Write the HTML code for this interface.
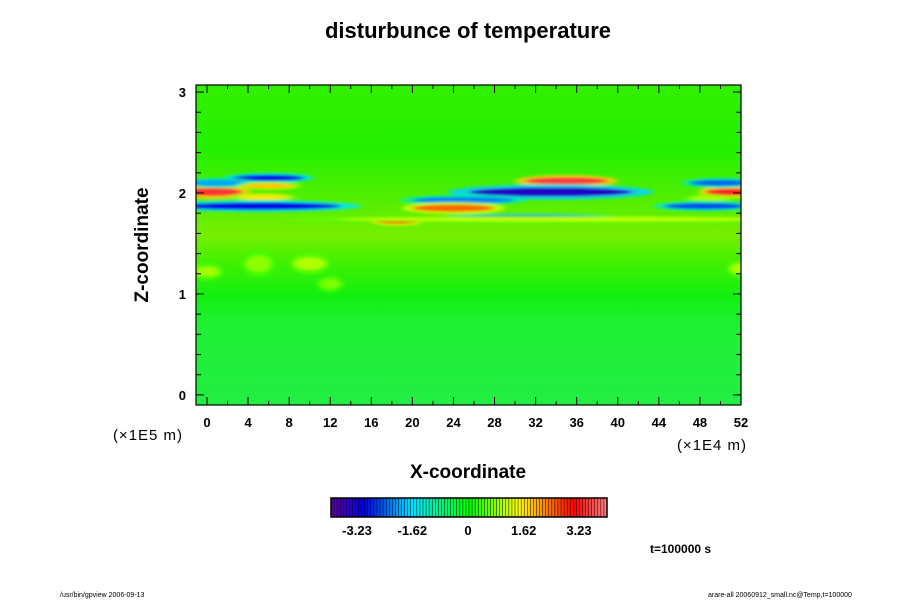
<!DOCTYPE html>
<html><head><meta charset="utf-8"><style>
html,body{margin:0;padding:0;background:#fff;width:900px;height:600px;overflow:hidden}
text{font-family:"Liberation Sans",sans-serif}
</style></head><body>
<svg id="chart" width="900" height="600" xmlns="http://www.w3.org/2000/svg">
<defs>
<filter id="blur" x="-20%" y="-50%" width="140%" height="200%"><feGaussianBlur stdDeviation="3 1.2"/></filter>
<clipPath id="clip"><rect x="196" y="85" width="545" height="320"/></clipPath>
<linearGradient id="bg" x1="0" y1="0" x2="0" y2="1">
<stop offset="0" stop-color="#33f000"/>
<stop offset="0.2" stop-color="#22f000"/>
<stop offset="0.42" stop-color="#66ee00"/>
<stop offset="0.47" stop-color="#77ee00"/>
<stop offset="0.55" stop-color="#44f000"/>
<stop offset="0.66" stop-color="#11f011"/>
<stop offset="0.75" stop-color="#20f035"/>
<stop offset="1" stop-color="#22ee44"/>
</linearGradient>
</defs>
<text x="468" y="38" text-anchor="middle" font-size="22" font-weight="bold">disturbunce of temperature</text>
<g clip-path="url(#clip)">
<rect x="196" y="85" width="545" height="320" fill="url(#bg)"/>
<g id="blobs" filter="url(#blur)"></g>
</g>
<rect x="196" y="85" width="545" height="320" fill="none" stroke="#000" stroke-width="1.2"/>
<g id="axes"></g>
<text x="148" y="245" text-anchor="middle" font-size="19" font-weight="bold" transform="rotate(-90 148 245)">Z-coordinate</text>
<text x="468" y="478" text-anchor="middle" font-size="19" font-weight="bold">X-coordinate</text>
<text x="148" y="440" text-anchor="middle" font-size="15" letter-spacing="1">(×1E5 m)</text>
<text x="712" y="450" text-anchor="middle" font-size="15" letter-spacing="1">(×1E4 m)</text>
<g id="colorbar"></g>
<text x="650" y="553" font-size="12" font-weight="bold">t=100000 s</text>
<text x="60" y="597" font-size="7">/usr/bin/gpview 2006-09-13</text>
<text x="708" y="597" font-size="7">arare-all 20060912_small.nc@Temp,t=100000</text>
</svg>
<script>
const xTicks=[0,4,8,12,16,20,24,28,32,36,40,44,48,52];
const zTicks=[0,1,2,3];
const cbLabels=[-3.23,-1.62,0,1.62,3.23];
// features: x center, z center, half-width (x units), half-height (z units), value
const featX=[0.5,6,1,6,5.5,5,35,33.5,25,31.5,18.5,48.5,51,50,49,24,35,0,5,10,12,52];
const featZ=[2.01,2.15,2.1,2.07,1.96,1.87,2.12,2.01,1.93,1.76,1.72,1.87,2.01,2.1,1.95,1.85,1.74,1.22,1.3,1.3,1.1,1.25];
const featW=[3,3.5,3,2.5,2.5,8,4,8,5,7,2,4,2.5,3,2,4,22,1.2,1.2,1.5,1,1];
const featH=[0.04,0.03,0.03,0.025,0.025,0.035,0.035,0.045,0.03,0.02,0.025,0.03,0.035,0.03,0.02,0.035,0.02,0.05,0.08,0.06,0.05,0.05];
const featV=[3.4,-3.0,-2.0,1.8,1.6,-3.0,3.5,-3.4,-2.2,-2.8,2.8,-2.6,3.3,-2.4,1.0,2.4,1.1,0.9,0.8,1.0,0.7,1.0];
const X0=-1.07,X1=52,Z0=-0.1,Z1=3.07;
const px=x=>196+(x-X0)/(X1-X0)*545;
const pz=z=>405-(z-Z0)/(Z1-Z0)*320;
const NS="http://www.w3.org/2000/svg";
function mk(t,a,p){const e=document.createElementNS(NS,t);for(const k in a)e.setAttribute(k,a[k]);p.appendChild(e);return e;}
function col(v){
 const t=Math.max(0,Math.min(1,(v+4)/8));
 const stops=[[0,[90,0,150]],[0.12,[0,0,230]],[0.3,[0,230,255]],[0.5,[0,255,0]],[0.68,[255,255,0]],[0.88,[255,0,0]],[1,[255,130,130]]];
 for(let i=1;i<stops.length;i++){if(t<=stops[i][0]){const a=stops[i-1],b=stops[i],f=(t-a[0])/(b[0]-a[0]);return 'rgb('+a[1].map((c,j)=>Math.round(c+(b[1][j]-c)*f)).join(',')+')';}}
 return 'rgb(255,130,130)';
}
const blobs=document.getElementById('blobs');
const sx=545/(X1-X0),sz=320/(Z1-Z0);
for(let i=0;i<featX.length;i++){
 const h=mk('ellipse',{cx:px(featX[i]),cy:pz(featZ[i]),rx:featW[i]*sx*1.25,ry:featH[i]*sz*1.7,fill:col(featV[i]*0.5),opacity:0.85},blobs);
 
 
 const e=mk('ellipse',{cx:px(featX[i]),cy:pz(featZ[i]),rx:featW[i]*sx,ry:featH[i]*sz,fill:col(featV[i])},blobs);
 
 
}
const ax=document.getElementById('axes');
for(let x=0;x<=52;x+=2){const L=x%4===0?8:4;
 mk('line',{x1:px(x),x2:px(x),y1:405,y2:405-L,stroke:'#000'},ax);
 mk('line',{x1:px(x),x2:px(x),y1:85,y2:85+L,stroke:'#000'},ax);}
for(let z=0;z<=3.01;z+=0.2){const L=Math.abs(z-Math.round(z))<0.01?8:5;
 mk('line',{x1:196,x2:196+L,y1:pz(z),y2:pz(z),stroke:'#000'},ax);
 mk('line',{x1:741,x2:741-L,y1:pz(z),y2:pz(z),stroke:'#000'},ax);}
xTicks.forEach(v=>{const t=mk('text',{x:px(v),y:427,'text-anchor':'middle','font-size':13,'font-weight':'bold'},ax);t.textContent=v;
 
 });
zTicks.forEach(v=>{const t=mk('text',{x:186,y:pz(v)+5,'text-anchor':'end','font-size':13,'font-weight':'bold'},ax);t.textContent=v;
 
 });
const cb=document.getElementById('colorbar');
const n=90,cx0=331,cw=276;
for(let i=0;i<n;i++){const v=-4+8*(i+0.5)/n;
 mk('rect',{x:cx0+i*cw/n,y:498,width:cw/n+0.3,height:19,fill:col(v)},cb);
 mk('line',{x1:cx0+i*cw/n,x2:cx0+i*cw/n,y1:498,y2:517,stroke:'#000','stroke-width':0.5},cb);}
mk('rect',{x:cx0,y:498,width:cw,height:19,fill:'none',stroke:'#000','stroke-width':1.5},cb);
cbLabels.forEach(v=>{const t=mk('text',{x:468+v/3.23*111,y:535,'text-anchor':'middle','font-size':13,'font-weight':'bold'},cb);t.textContent=v;
 
 });
</script>
</body></html>
